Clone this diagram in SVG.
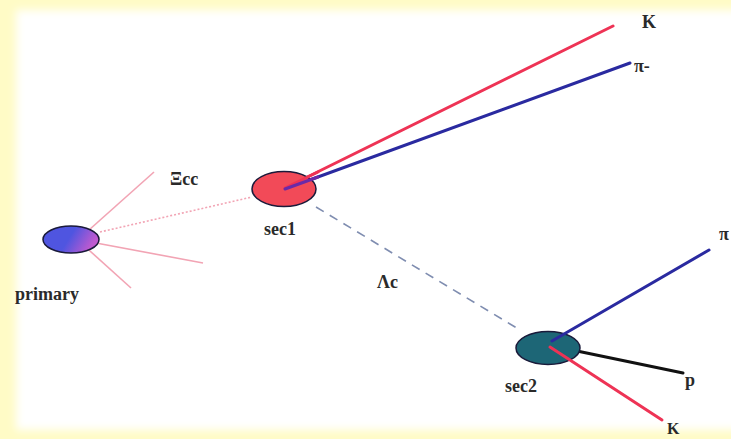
<svg xmlns="http://www.w3.org/2000/svg" width="731" height="439" viewBox="0 0 731 439">
<style>
.lbl{font-family:"Liberation Serif","Times New Roman",serif;font-size:18px;font-weight:bold;fill:#2a2a2a}
.pink{stroke:#f2a4b4;stroke-width:1.6;fill:none}
.trk{stroke-width:3;fill:none;stroke-linecap:round}
.node{stroke:#1a1a3a;stroke-width:1.5}
</style>
<defs>
<filter id="soft" x="-5%" y="-5%" width="110%" height="110%"><feGaussianBlur stdDeviation="4"/></filter>
<linearGradient id="pg" x1="0" y1="0" x2="1" y2="0.3">
<stop offset="0.55" stop-color="#4f55e0"/><stop offset="1" stop-color="#c05ad0"/>
</linearGradient>
</defs>
<rect width="731" height="439" fill="#fffbc6"/>
<rect x="16" y="10" width="730" height="420" fill="#ffffff" filter="url(#soft)"/>
<g id="connectors">
<line class="pink" x1="80" y1="238" x2="154" y2="172"/>
<line class="pink" x1="80" y1="240" x2="203" y2="263"/>
<line class="pink" x1="80" y1="242" x2="131" y2="288"/>
<line class="pink" x1="100" y1="232" x2="252" y2="197" stroke-dasharray="2,2"/>
<line x1="316" y1="207" x2="520" y2="330" stroke="#7f8db0" stroke-width="1.6" stroke-dasharray="9,7"/>
<line class="trk" x1="285" y1="188" x2="613" y2="26" stroke="#ee3355"/>
<line class="trk" x1="285" y1="189" x2="630" y2="63" stroke="#2a2aa0"/>
<line class="trk" x1="577" y1="351" x2="683" y2="373" stroke="#111111" stroke-width="2.5"/>
</g>
<g id="primary">
<ellipse class="node" cx="71" cy="239.5" rx="28" ry="13.5" fill="url(#pg)"/>
<text class="lbl" x="15" y="300">primary</text>
</g>
<g id="sec1">
<ellipse class="node" cx="284" cy="189" rx="32" ry="17.5" fill="#f24a58"/>
<line class="trk" x1="285" y1="188" x2="318" y2="172" stroke="#ee3355"/>
<line class="trk" x1="285" y1="189" x2="318" y2="177" stroke="#6a2aa8"/>
<text class="lbl" x="264" y="235">sec1</text>
</g>
<g id="sec2">
<ellipse class="node" cx="548" cy="348" rx="32" ry="16.5" fill="#1d6676"/>
<line class="trk" x1="552" y1="341" x2="709" y2="250" stroke="#2a2aa0"/>
<line class="trk" x1="550" y1="347" x2="662" y2="420" stroke="#ee3355"/>
<text class="lbl" x="505" y="392">sec2</text>
</g>
<g id="labels">
<text class="lbl" x="170" y="185">Ξcc</text>
<text class="lbl" x="377" y="288">Λc</text>
<text class="lbl" x="642" y="28">K</text>
<text class="lbl" x="634" y="72">π-</text>
<text class="lbl" x="719" y="240">π</text>
<text class="lbl" x="685" y="386">p</text>
<text class="lbl" x="667" y="434" style="font-size:16px">K</text>
</g>
</svg>
